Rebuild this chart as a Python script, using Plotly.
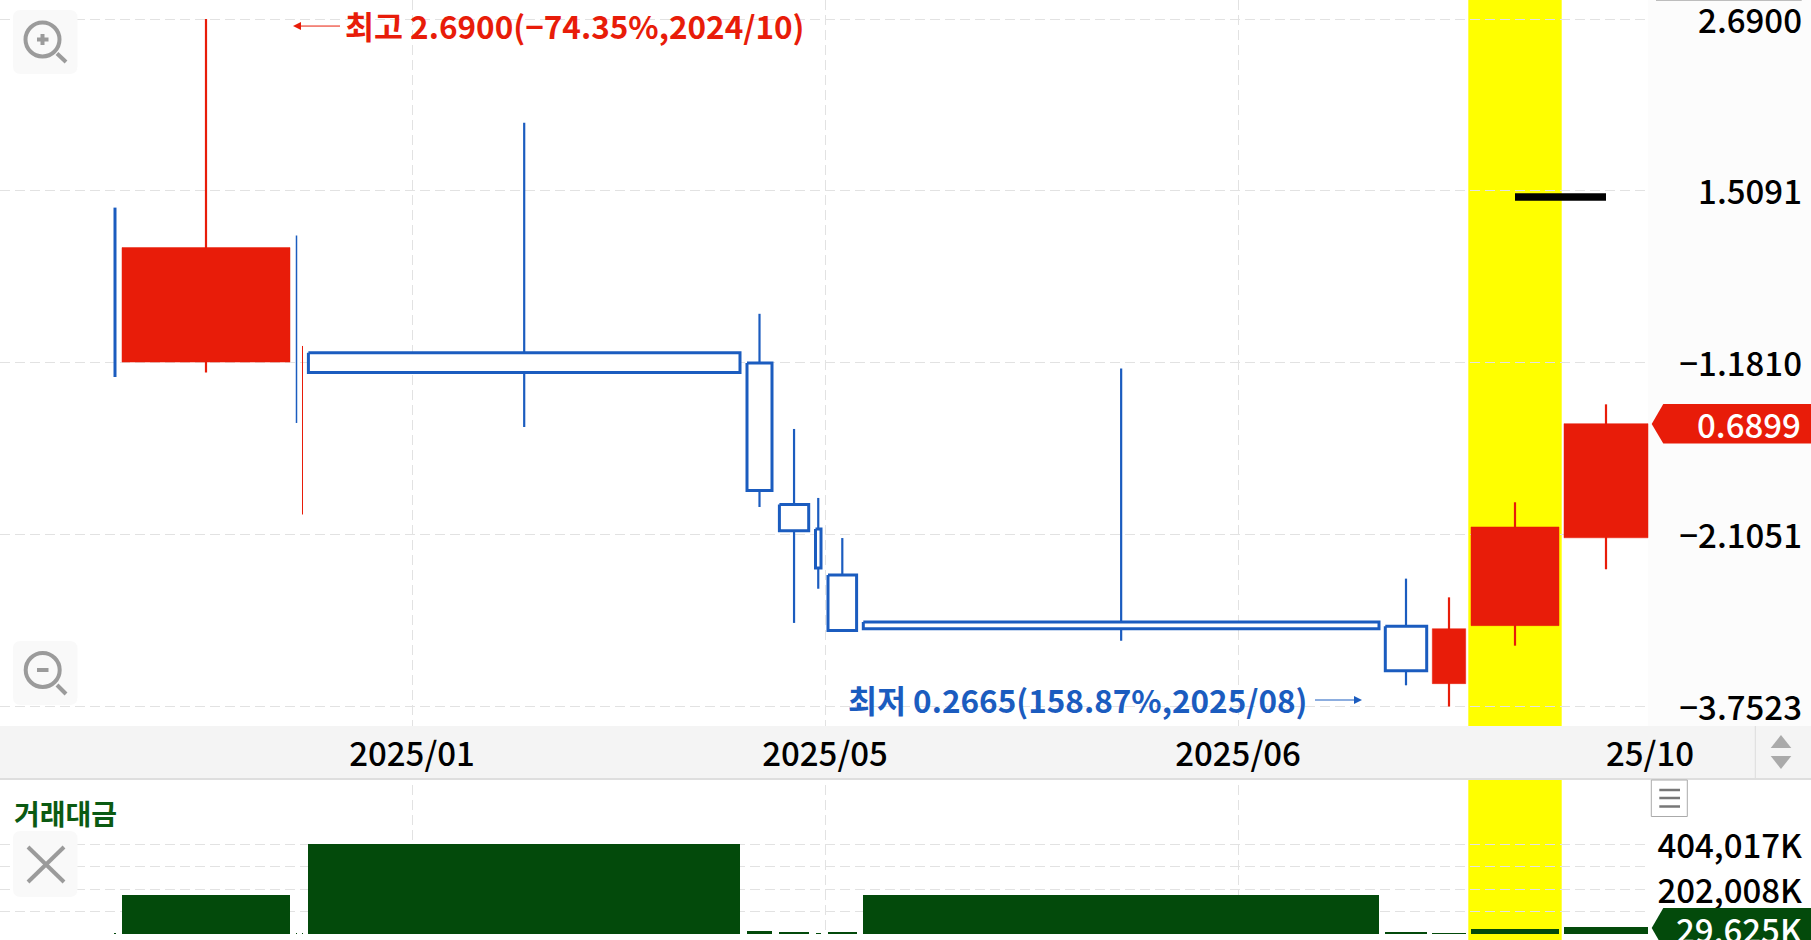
import math
import plotly.graph_objects as go

# ---- data ----
x_left  = [114, 122, 296, 302, 308.4, 747, 779.4, 815.5, 828, 863.3, 1385.3, 1432.3, 1471, 1564]
x_right = [116, 290, 297, 303, 740, 772, 808.7, 821, 856.6, 1379, 1426.7, 1465.7, 1559, 1648]
open_   = [1.4266, 0.8487, 1.2989, 0.8959, 0.8754, 0.8459, 0.5257, 0.4842, 0.4147, 0.3541, 0.3490, 0.2878, 0.3498, 0.4700]
close_  = [0.8197, 1.2470, 0.6915, 0.5083, 0.8197, 0.5508, 0.4814, 0.4246, 0.3440, 0.3462, 0.3006, 0.3462, 0.4874, 0.6899]
high    = [1.4266, 2.6900, 1.2989, 0.8959, 1.8977, 0.9982, 0.6777, 0.5374, 0.4696, 0.8304, 0.4097, 0.3847, 0.5296, 0.7362]
low     = [0.8071, 0.8197, 0.6915, 0.5083, 0.6823, 0.5213, 0.3530, 0.3960, 0.3425, 0.3325, 0.2862, 0.2665, 0.3270, 0.4228]
rising  = [False, True, False, True, False, False, False, False, False, False, False, True, True, True]
volume  = [3000, 175000, 1000, 1000, 404017, 13000, 10000, 2500, 6000, 177000, 7000, 4000, 22000, 29625]

marker_x = [1515, 1606]
marker_y = [1.4787, 1.4787]
highlight_x = [1468.3, 1561.7]

price_ticks = [2.69, 1.5091, 0.8467, 0.4750, 0.2665]
price_labels = ["2.6900", "1.5091", "−1.1810", "−2.1051", "−3.7523"]
volume_ticks = [0, 101004, 202008, 303012, 404017]
volume_labels = ["", "", "202,008K", "", "404,017K"]
date_ticks = [412, 825, 1238, 1650]
date_labels = ["2025/01", "2025/05", "2025/06", "25/10"]

last_price = "0.6899"
last_volume = "29,625K"
high_note = "최고 2.6900(−74.35%,2024/10)"
low_note = "최저 0.2665(158.87%,2025/08)"
panel_title = "거래대금"

# ---- styles ----
W, H = 1811, 940
RED, BLUE, GREEN = "#e81c09", "#1b5cbf", "#034a0b"
GRID = "#e2e2e2"
ICON = "#9b9b9b"
FONT = "Noto Sans CJK KR Medium, Noto Sans CJK KR"
WICK_WIDTH = {0: 3, 2: 1.5, 3: 1}


def px(x):
    return x / W


def py(y):
    return 1 - y / H


fig = go.Figure()

for i in range(len(high)):
    c = [(x_left[i] + x_right[i]) / 2] * 2
    colour = RED if rising[i] else BLUE
    fig.add_trace(go.Scatter(x=c, y=[low[i], high[i]], mode="lines", hoverinfo="skip",
                             line=dict(color=colour, width=WICK_WIDTH.get(i, 2.2))))

for i in range(len(high)):
    if i in (0, 2, 3):
        continue
    xs = [x_left[i], x_right[i], x_right[i], x_left[i], x_left[i]]
    ys = [open_[i], open_[i], close_[i], close_[i], open_[i]]
    if rising[i]:
        fig.add_trace(go.Scatter(x=xs, y=ys, mode="lines", fill="toself", fillcolor=RED,
                                 line=dict(color=RED, width=0.5), hoverinfo="skip"))
    else:
        fig.add_trace(go.Scatter(x=xs, y=ys, mode="lines", fill="toself", fillcolor="white",
                                 line=dict(color=BLUE, width=3), hoverinfo="skip"))

fig.add_trace(go.Scatter(x=marker_x, y=marker_y, mode="lines", hoverinfo="skip",
                         line=dict(color="black", width=7.5)))

fig.add_trace(go.Bar(x=[(a + b) / 2 for a, b in zip(x_left, x_right)],
                     width=[b - a for a, b in zip(x_left, x_right)],
                     y=volume, marker=dict(color=GREEN, line=dict(width=0)),
                     xaxis="x2", yaxis="y2", hoverinfo="skip"))

shapes = []


def rect(x0, y0, x1, y1, fill, layer="below", line=None):
    shapes.append(dict(type="rect", xref="paper", yref="paper", layer=layer,
                       x0=px(x0), x1=px(x1), y0=py(y1), y1=py(y0), fillcolor=fill,
                       line=line or dict(width=0)))


def rrect(x0, y0, x1, y1, fill, r=8):
    p = (f"M {px(x0 + r):.5f},{py(y0):.5f} L {px(x1 - r):.5f},{py(y0):.5f} "
         f"Q {px(x1):.5f},{py(y0):.5f} {px(x1):.5f},{py(y0 + r):.5f} "
         f"L {px(x1):.5f},{py(y1 - r):.5f} Q {px(x1):.5f},{py(y1):.5f} {px(x1 - r):.5f},{py(y1):.5f} "
         f"L {px(x0 + r):.5f},{py(y1):.5f} Q {px(x0):.5f},{py(y1):.5f} {px(x0):.5f},{py(y1 - r):.5f} "
         f"L {px(x0):.5f},{py(y0 + r):.5f} Q {px(x0):.5f},{py(y0):.5f} {px(x0 + r):.5f},{py(y0):.5f} Z")
    shapes.append(dict(type="path", xref="paper", yref="paper", layer="above", path=p,
                       fillcolor=fill, line=dict(width=0)))


def seg(x0, y0, x1, y1, colour=ICON, width=4, layer="above"):
    shapes.append(dict(type="line", xref="paper", yref="paper", layer=layer,
                       x0=px(x0), x1=px(x1), y0=py(y0), y1=py(y1),
                       line=dict(color=colour, width=width)))


def poly(points, fill, layer="above"):
    p = "M " + " L ".join(f"{px(a):.5f},{py(b):.5f}" for a, b in points) + " Z"
    shapes.append(dict(type="path", xref="paper", yref="paper", layer=layer, path=p,
                       fillcolor=fill, line=dict(width=0)))


def circle(cx, cy, r, colour=ICON, width=4):
    shapes.append(dict(type="circle", xref="paper", yref="paper", layer="above",
                       x0=px(cx - r), x1=px(cx + r), y0=py(cy + r), y1=py(cy - r),
                       line=dict(color=colour, width=width)))


# panels
rect(1648, 0, W, 726, "#fcfcfc")
rect(0, 726, W, 778, "#f4f4f4")
rect(0, 778, W, 780, "#dedede")
seg(1656, 0.5, 1801.7, 0.5, "#bdbdbd", 1, "below")
seg(1755.3, 726, 1755.3, 778, "#dddddd", 1, "above")

# highlighted period
for y0, y1 in ((0, 726), (780, 940)):
    shapes.append(dict(type="rect", xref="x", yref="paper", layer="below",
                       x0=highlight_x[0], x1=highlight_x[1], y0=py(y1), y1=py(y0),
                       fillcolor="#ffff00", line=dict(width=0)))

# zoom buttons and close button
rrect(13, 10, 77.5, 74, "#f9f9f9")
circle(42.5, 39.5, 17)
seg(57, 53.5, 66, 62)
seg(37, 39.5, 48.5, 39.5)
seg(42.5, 34, 42.5, 45)
rrect(13, 641, 77.5, 705, "#f9f9f9")
circle(42.7, 670, 17)
seg(57, 685, 66, 694)
seg(37, 670, 48.5, 670)
rrect(13, 831, 77.5, 897, "#f9f9f9")
seg(28, 847, 64, 882)
seg(64, 847, 28, 882)

# menu button
rect(1651.3, 780, 1687.3, 816.5, "white", "above", dict(color="#aaaaaa", width=1))
for yy in (790, 798, 806.5):
    seg(1659.3, yy, 1680, yy, "#777777", 2.5)

# up / down arrows
poly([(1781, 735), (1791.3, 748), (1770.7, 748)], "#aaaaaa")
poly([(1770.7, 756), (1791.3, 756), (1781, 769)], "#aaaaaa")

# last value tags
poly([(1651.7, 424), (1663.3, 404), (W, 404), (W, 443.5), (1663.3, 443.5)], RED)
poly([(1651.7, 928), (1663.3, 908), (W, 908), (W, 948), (1663.3, 948)], GREEN)

annotations = [
    dict(xref="x", yref="y", x=575, y=math.log10(2.6407), xanchor="center", yanchor="middle", showarrow=False,
         text=high_note, font=dict(family="Noto Sans CJK KR", size=31.5, color=RED, weight=700)),
    dict(xref="x", yref="y", x=293, y=math.log10(2.627), ax=52, ay=0, axref="pixel", ayref="pixel",
         text=" ", showarrow=True, arrowhead=2, arrowsize=1.6, arrowwidth=1, arrowcolor=RED),
    dict(xref="x", yref="y", x=1078, y=math.log10(0.2733), xanchor="center", yanchor="middle", showarrow=False,
         text=low_note, font=dict(family="Noto Sans CJK KR", size=31.5, color=BLUE, weight=700)),
    dict(xref="x", yref="y", x=1362, y=math.log10(0.2724), ax=-52, ay=0, axref="pixel", ayref="pixel",
         text=" ", showarrow=True, arrowhead=2, arrowsize=1.6, arrowwidth=1, arrowcolor=BLUE),
    dict(xref="paper", yref="paper", x=px(1803), y=py(424), xanchor="right", yanchor="middle", showarrow=False,
         text=last_price, font=dict(family=FONT, size=33, color="white")),
    dict(xref="paper", yref="paper", x=px(1804), y=py(928.5), xanchor="right", yanchor="middle", showarrow=False,
         text=last_volume, font=dict(family=FONT, size=33, color="white")),
    dict(xref="paper", yref="paper", x=px(12), y=py(813), xanchor="left", yanchor="middle", showarrow=False,
         text=panel_title, font=dict(family="Noto Sans CJK KR", size=28, color="#0b5a12", weight=700)),
]

grid = dict(showgrid=True, gridcolor=GRID, gridwidth=1, griddash="10px,5px", zeroline=False, showline=False)
tick_font = dict(family=FONT, size=33, color="black")

fig.update_layout(
    width=W, height=H, autosize=False, showlegend=False, bargap=0,
    margin=dict(l=0, r=0, t=0, b=0, autoexpand=False), paper_bgcolor="white", plot_bgcolor="rgba(0,0,0,0)",
    font=dict(family=FONT, size=33, color="black"),
    shapes=shapes, annotations=annotations,
    xaxis=dict(domain=[0, px(1650)], range=[0, 1650], anchor="y", tickmode="array",
               tickvals=date_ticks, ticktext=date_labels, ticks="", ticklabeloverflow="allow",
               ticklabelstandoff=6, tickfont=tick_font, **grid),
    yaxis=dict(domain=[py(726), 1], type="log", range=[-0.60276, 0.4575], anchor="free",
               position=px(1802), side="left", tickmode="array", ticklabeloverflow="allow",
               ticklabelshift=2, tickvals=price_ticks, ticktext=price_labels, ticks="",
               tickfont=tick_font, **grid),
    xaxis2=dict(domain=[0, px(1650)], range=[0, 1650], anchor="y2", matches="x", tickmode="array",
                tickvals=date_ticks, showticklabels=False, ticks="", **grid),
    yaxis2=dict(domain=[py(934), py(785)], range=[0, 668900], anchor="free",
                position=px(1802), side="left", tickmode="array", ticklabeloverflow="allow",
                ticklabelshift=2, tickvals=volume_ticks, ticktext=volume_labels, ticks="",
                tickfont=tick_font, **grid),
)

fig.write_html("out.html", config=dict(displayModeBar=False),
               post_script="document.body.style.margin='0';document.body.style.overflow='hidden';")
